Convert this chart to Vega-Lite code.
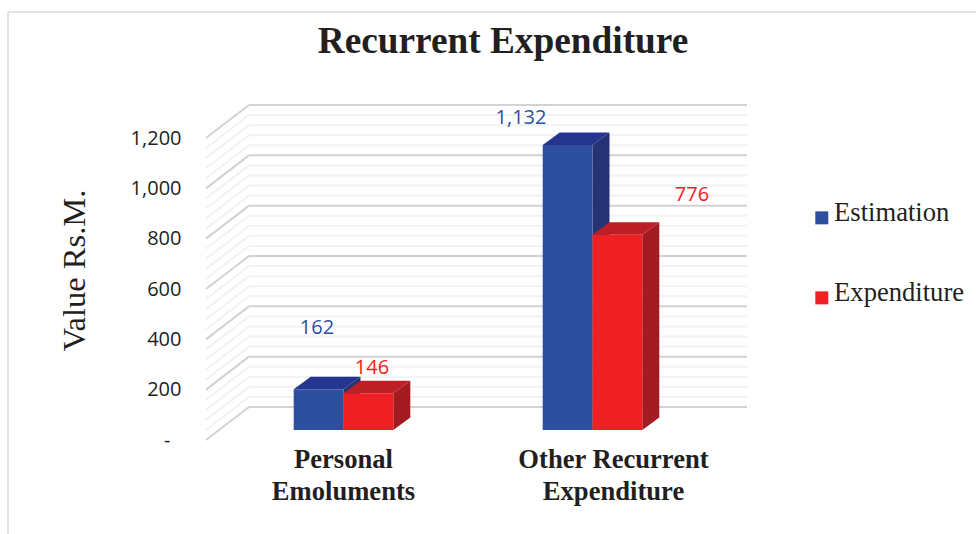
{
"$schema":"https://vega.github.io/schema/vega-lite/v6.json",
"width":498,"height":302,"autosize":"none",
"padding":{"left":206,"right":272,"top":138,"bottom":94},
"background":"white",
"view":{"stroke":null},
"title":{"text":"Recurrent Expenditure","font":"Liberation Serif","fontWeight":"bold","fontSize":37.3,"color":"#231f20","anchor":"middle","dx":48,"offset":-79,"baseline":"alphabetic"},
"datasets":{
"bars":[
{"category":"Personal Emoluments","series":"Estimation","value":162,"corners":[0,1,2,3],"edge":[162,162,0,0]},
{"category":"Personal Emoluments","series":"Expenditure","value":146,"corners":[0,1,2,3],"edge":[146,146,0,0]},
{"category":"Other Recurrent Expenditure","series":"Estimation","value":1132,"corners":[0,1,2,3],"edge":[1132,1132,0,0]},
{"category":"Other Recurrent Expenditure","series":"Expenditure","value":776,"corners":[0,1,2,3],"edge":[776,776,0,0]}],
"grid":[{"v":0},{"v":40},{"v":80},{"v":120},{"v":160},{"v":200},{"v":240},{"v":280},{"v":320},{"v":360},{"v":400},{"v":440},{"v":480},{"v":520},{"v":560},{"v":600},{"v":640},{"v":680},{"v":720},{"v":760},{"v":800},{"v":840},{"v":880},{"v":920},{"v":960},{"v":1000},{"v":1040},{"v":1080},{"v":1120},{"v":1160},{"v":1200}]
},
"layer":[
{"data":{"name":"grid"},
 "mark":{"type":"rule","yOffset":-33,"strokeWidth":2,"stroke":{"expr":"datum.v%200==0?'#d2d2d2':'#f1f2f2'"}},
 "encoding":{"y":{"field":"v","type":"quantitative","scale":{"domain":[0,1200],"nice":false},"title":"Value Rs.M.",
   "axis":{"values":[0,200,400,600,800,1000,1200],"domain":false,"ticks":false,"grid":false,"labelPadding":{"condition":{"test":"datum.value==0","value":36},"value":25},"labelFont":"Open Sans","labelFontSize":20,"labelColor":"#231f20",
    "labelExpr":"datum.value==0?'-':format(datum.value,',')",
    "titleFont":"Liberation Serif","titleFontSize":32.5,"titleFontWeight":"normal","titleColor":"#231f20","titleX":-115,"titleY":132}},
  "x":{"value":43},"x2":{"value":541}}},
{"data":{"name":"grid"},
 "mark":{"type":"rule","y2Offset":-33,"strokeWidth":2,"stroke":{"expr":"datum.v%200==0?'#d2d2d2':'#f1f2f2'"}},
 "encoding":{"y":{"field":"v","type":"quantitative"},"y2":{"field":"v"},"x":{"value":0},"x2":{"value":43}}},
{"data":{"values":[{"edge":"frame"}]},
 "mark":{"type":"rule","stroke":"#e2e2e2","strokeWidth":2},
 "encoding":{"x":{"value":-198},"x2":{"value":770},"y":{"value":-126}}},
{"data":{"values":[{"edge":"frame"}]},
 "mark":{"type":"rule","stroke":"#e2e2e2","strokeWidth":2},
 "encoding":{"x":{"value":-198},"y":{"value":-126},"y2":{"value":396}}},
{"data":{"name":"bars"},
 "transform":[{"flatten":["corners","edge"]}],
 "mark":{"type":"line","strokeWidth":0,
  "xOffset":{"expr":"(datum.series=='Estimation'?0:49.8)+[0,17,17,0][datum.corners]"},
  "yOffset":{"expr":"-10+[0,-12.5,-12.5,0][datum.corners]"},
  "fill":{"expr":"datum.series=='Estimation'?'#253274':'#a11b20'"}},
 "encoding":{"x":{"field":"category","type":"nominal","sort":null},
  "y":{"field":"edge","type":"quantitative"},
  "detail":[{"field":"category"},{"field":"series"}],
  "order":{"field":"corners"}}},
{"data":{"name":"bars"},
 "transform":[{"flatten":["corners"]}],
 "mark":{"type":"line","strokeWidth":0,
  "xOffset":{"expr":"(datum.series=='Estimation'?-49.8:0)+[0,49.8,66.8,17][datum.corners]"},
  "yOffset":{"expr":"-10+[0,0,-12.5,-12.5][datum.corners]"},
  "fill":{"expr":"datum.series=='Estimation'?'#25348e':'#bc1f25'"}},
 "encoding":{"x":{"field":"category","type":"nominal","sort":null},
  "y":{"field":"value","type":"quantitative"},
  "detail":[{"field":"category"},{"field":"series"}],
  "order":{"field":"corners"}}},
{"data":{"name":"bars"},
 "mark":{"type":"bar","yOffset":-10,"y2Offset":-10},
 "encoding":{
  "x":{"field":"category","type":"nominal","sort":null,"title":null,
   "scale":{"paddingInner":0.6,"paddingOuter":0.3,"range":[13,511]},
   "axis":{"domain":false,"ticks":false,"labelAngle":0,"labelAlign":"center","labelFont":"Liberation Serif","labelFontWeight":"bold","labelFontSize":26.6,"labelColor":"#231f20","labelLineHeight":32,"labelPadding":19,"labelLimit":0,
    "labelExpr":"datum.value=='Personal Emoluments'?['Personal','Emoluments']:['Other Recurrent','Expenditure']",
    "labelOffset":{"condition":{"test":"datum.value=='Personal Emoluments'","value":0},"value":21}}},
  "xOffset":{"field":"series","type":"nominal"},
  "y":{"field":"value","type":"quantitative"},
  "color":{"field":"series","type":"nominal","scale":{"domain":["Estimation","Expenditure"],"range":["#2e4f9f","#ef2024"]},
   "legend":{"title":null,"orient":"none","legendX":602.5,"legendY":62,"padding":0,"symbolType":"M-1,-0.3L1,-0.3L1,1.7L-1,1.7Z","symbolSize":169,"symbolStrokeWidth":0,"labelFont":"Liberation Serif","labelFontSize":26.6,"labelColor":"#231f20","labelOffset":-1,"rowPadding":53,"labelLimit":0,"symbolOpacity":1}}}},
{"data":{"name":"bars"},
 "mark":{"type":"text","font":"Open Sans","fontSize":20,"baseline":"middle",
  "dx":{"expr":"{162:-26.5,146:28.5,1132:-71.5,776:99.5}[datum.value]"},
  "dy":{"expr":"{162:-71,146:-35,1132:-37,776:-50}[datum.value]"},
  "fill":{"expr":"datum.series=='Estimation'?'#2e4f9f':'#ef2024'"}},
 "encoding":{"x":{"field":"category","type":"nominal","sort":null},
  "y":{"field":"value","type":"quantitative"},
  "text":{"field":"value","type":"quantitative","format":","}}}
]
}
